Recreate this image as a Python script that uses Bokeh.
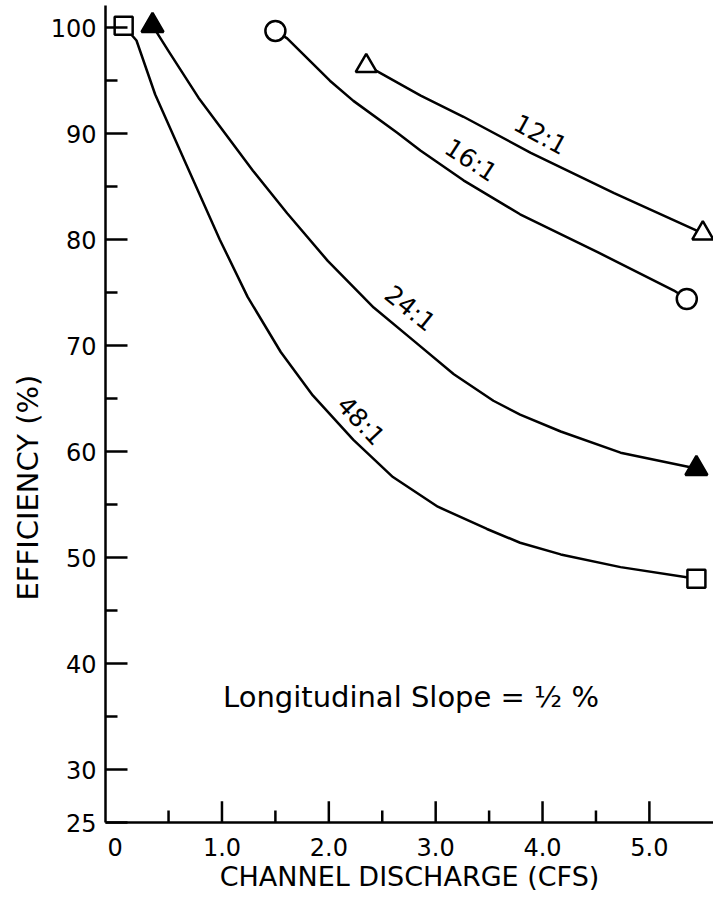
import numpy as np
from bokeh.plotting import figure
from bokeh.models import Range1d, FixedTicker, Label, ColumnDataSource, Title
from bokeh.core.properties import value
from bokeh.embed import file_html
from bokeh.resources import INLINE

FONT = "DejaVu Sans"

# ---------------- data ----------------
x_ticks = [0, 1, 2, 3, 4, 5]
x_tick_labels = ["0", "1.0", "2.0", "3.0", "4.0", "5.0"]
x_minor = [0.5, 1.5, 2.5, 3.5, 4.5]
y_ticks = [25, 30, 40, 50, 60, 70, 80, 90, 100]
y_minor = [35, 45, 55, 65, 75, 85, 95]

ratios = ["12:1", "16:1", "24:1", "48:1"]

x12 = [2.35, 2.45, 2.86, 3.26, 3.89, 4.67, 5.50]
y12 = [96.4, 95.9, 93.6, 91.6, 88.2, 84.4, 80.6]

x16 = [1.50, 1.61, 2.01, 2.23, 2.64, 2.86, 3.26, 3.79, 4.52, 5.23, 5.35]
y16 = [99.7, 99.0, 95.0, 93.1, 90.1, 88.4, 85.6, 82.4, 78.8, 75.2, 74.4]

x24 = [0.35, 0.50, 0.78, 1.29, 1.61, 1.99, 2.42, 2.79, 3.17, 3.54, 3.79, 4.17, 4.73, 5.44]
y24 = [100.2, 97.8, 93.4, 86.5, 82.5, 78.0, 73.6, 70.5, 67.3, 64.8, 63.5, 61.9, 59.9, 58.4]

x48 = [0.08, 0.20, 0.375, 0.67, 0.98, 1.24, 1.55, 1.85, 2.23, 2.60, 3.02, 3.48, 3.79, 4.17, 4.73, 5.44]
y48 = [100.2, 98.8, 93.7, 87.0, 80.0, 74.6, 69.4, 65.3, 61.1, 57.6, 54.8, 52.7, 51.4, 50.3, 49.1, 48.0]

# ---------------- figure ----------------
p = figure(width=713, height=900,
           x_range=Range1d(-0.09, 5.6), y_range=Range1d(25, 102.1),
           output_backend="svg", toolbar_location=None,
           min_border_left=105, min_border_right=0,
           min_border_top=5, min_border_bottom=78)
p.outline_line_color = None
p.grid.visible = False
p.background_fill_color = "white"
p.border_fill_color = "white"

# y axis
yax = p.yaxis[0]
yax.ticker = FixedTicker(ticks=y_ticks, minor_ticks=y_minor)
yax.axis_line_width = 2.5
yax.axis_line_color = "black"
yax.major_tick_in = 22
yax.major_tick_out = 0
yax.minor_tick_in = 12
yax.minor_tick_out = 0
yax.major_tick_line_width = 2.5
yax.minor_tick_line_width = 2.5
yax.major_tick_line_color = "black"
yax.minor_tick_line_color = "black"
yax.major_label_text_font = FONT
yax.major_label_text_font_size = "24px"
yax.major_label_text_color = "black"
yax.major_label_standoff = 9

# y axis title, placed along the left side
ytitle = Title(text="EFFICIENCY (%)", align="left", offset=222,
               text_font=FONT, text_font_size="29px", text_font_style="normal",
               text_color="black", standoff=6)
p.add_layout(ytitle, "left")

# x axis
xax = p.xaxis[0]
xax.ticker = FixedTicker(ticks=x_ticks)
xax.major_label_overrides = dict(zip(x_ticks, x_tick_labels))
xax.axis_line_width = 2.5
xax.axis_line_color = "black"
xax.major_tick_line_color = None
xax.minor_tick_line_color = None
xax.major_label_text_font = FONT
xax.major_label_text_font_size = "24px"
xax.major_label_text_color = "black"
xax.major_label_standoff = 9
xax.axis_label = "CHANNEL DISCHARGE (CFS)"
xax.axis_label_text_font = FONT
xax.axis_label_text_font_size = "27px"
xax.axis_label_text_font_style = "normal"
xax.axis_label_text_color = "black"
xax.axis_label_standoff = 2

# inward x ticks (no tick at 0)
major_len = 2.0
minor_len = 1.13
y_lo = p.y_range.start
mx = x_ticks[1:]
p.segment(x0=mx, y0=np.full(len(mx), y_lo), x1=mx, y1=np.full(len(mx), y_lo + major_len),
          line_color="black", line_width=2.5)
p.segment(x0=x_minor, y0=np.full(len(x_minor), y_lo), x1=x_minor,
          y1=np.full(len(x_minor), y_lo + minor_len),
          line_color="black", line_width=2.5)

# curves
series = [(x12, y12), (x16, y16), (x24, y24), (x48, y48)]
for xs, ys in series:
    p.line(xs, ys, line_color="black", line_width=2.5, line_join="round", line_cap="round")

# end markers
p.scatter([x12[0], x12[-1]], [y12[0], y12[-1]], marker="triangle", size=21,
          fill_color="white", line_color="black", line_width=2.5)
p.scatter([x16[0], x16[-1]], [y16[0], y16[-1]], marker="circle", size=20,
          fill_color="white", line_color="black", line_width=2.5)
p.scatter([x24[0], x24[-1]], [y24[0], y24[-1]], marker="triangle", size=22,
          fill_color="black", line_color="black", line_width=2.5)
p.scatter([x48[0], x48[-1]], [y48[0], y48[-1]], marker="square", size=18,
          fill_color="white", line_color="black", line_width=2.5)

# curve labels (positions are layout, not data)
lab_src = ColumnDataSource(dict(
    x=[3.98, 3.33, 2.76, 2.30],
    y=[89.9, 87.5, 73.5, 62.9],
    text=ratios,
    angle=[-0.50, -0.58, -0.68, -0.82],
))
p.text(x="x", y="y", text="text", angle="angle", source=lab_src,
       text_font=value(FONT), text_font_size=value("25px"),
       text_align="center", text_baseline="middle", text_color="black")

# annotation
p.add_layout(Label(x=1.01, y=36.8, text="Longitudinal Slope = ½ %",
                   text_font=FONT, text_font_size="29px", text_color="black",
                   text_align="left", text_baseline="middle"))

open("out.html", "w").write(file_html(p, INLINE))
